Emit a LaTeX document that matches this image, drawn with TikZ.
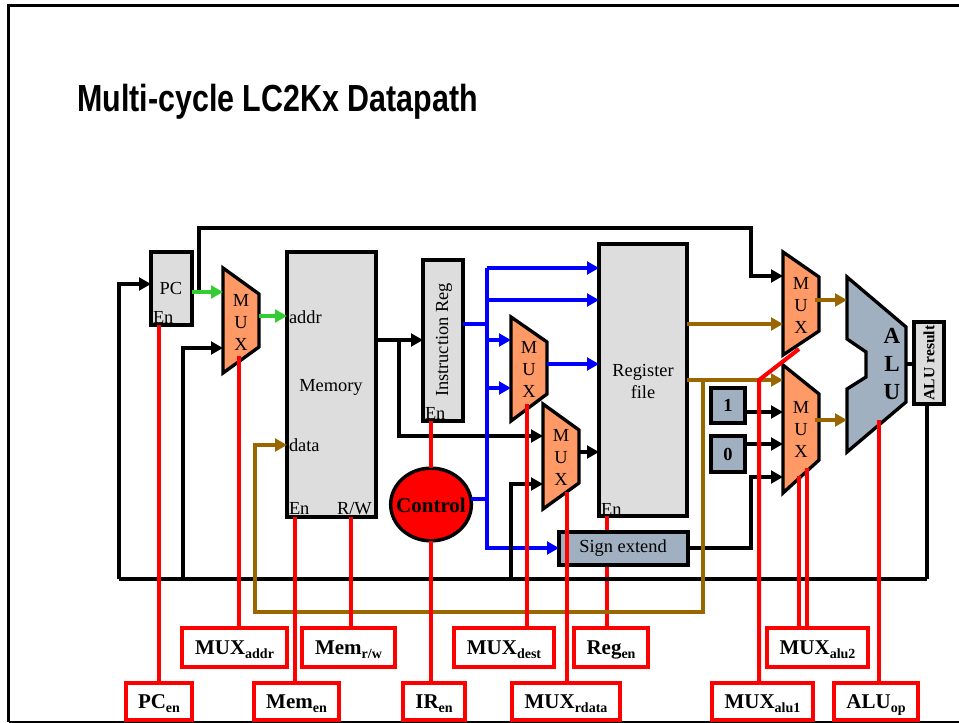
\documentclass[tikz,border=0pt]{standalone}
\usepackage{fontspec}
\usepackage{graphicx}
\setmainfont{Liberation Serif}
\newfontfamily\titlefont{Liberation Sans}
\usetikzlibrary{arrows.meta,shapes.geometric}
\definecolor{boxgray}{HTML}{DDDDDD}
\definecolor{muxorange}{HTML}{FF9966}
\definecolor{slategray}{HTML}{A0B0C0}
\definecolor{busbrown}{HTML}{996600}
\definecolor{busgreen}{HTML}{33CC33}
\definecolor{busblue}{HTML}{0000FF}
\definecolor{ctlred}{HTML}{FF0000}
\tikzset{
  x=0.75pt,y=-0.75pt,
  shapeline/.style={draw=black,line width=2.5pt,line join=miter},
  graybox/.style={shapeline,fill=boxgray,inner sep=0pt,outer sep=0pt},
  slatebox/.style={shapeline,fill=slategray,inner sep=0pt,outer sep=0pt},
  lblbox/.style={draw=ctlred,line width=2.6pt,fill=white,inner sep=0pt,outer sep=0pt,
    font=\fontsize{15.75}{18}\selectfont\bfseries,text height=10pt,text depth=.25pt},
  reg/.style={font=\fontsize{13.8}{16.5}\selectfont,inner sep=0pt,outer sep=0pt,align=center},
  bld/.style={font=\fontsize{13.8}{16.5}\selectfont\bfseries,inner sep=0pt,outer sep=0pt,align=center},
  tag/.style={reg,anchor=base west},
  wire/.style={line width=2.8pt,line join=miter},
  tip/.style={-{Triangle[length=9pt,width=9.5pt]}},
  bk/.style={wire,black},
  bkto/.style={wire,black,tip},
  bl/.style={wire,busblue},
  blto/.style={wire,busblue,tip},
  gr/.style={wire,busgreen,tip},
  brn/.style={wire,busbrown},
  brnto/.style={wire,busbrown,tip},
  rd/.style={line width=3pt,ctlred},
}
% box as a node given by its corners
\newcommand{\bx}[7]{%
  \pgfmathsetmacro{\bw}{(#5-#3)*0.75}%
  \pgfmathsetmacro{\bh}{(#6-#4)*0.75}%
  \node[#2,minimum width=\bw pt,minimum height=\bh pt] (#1) at ({(#3+#5)/2},{(#4+#6)/2}) {#7};}
% multiplexer: outline and its lettering
\newcommand{\muxbox}[9]{%
  \draw[shapeline,fill=muxorange] (#2,#4) -- (#3,#5) -- (#3,#6) -- (#2,#7) -- cycle;
  \node[reg] (#1) at (#8,#9) {M\\U\\X};}
\newcommand{\lbl}[2]{#1\raisebox{-3.2pt}{\fontsize{10.5}{12}\selectfont #2}}
\begin{document}
\begin{tikzpicture}
\useasboundingbox (0,0) rectangle (959,723);
\fill[white] (0,0) rectangle (959,723);
% slide frame
\coordinate (fbl) at (8.5,721.5);
\coordinate (ftl) at (8.5,5.5);
\coordinate (ftr) at (959,5.5);
\coordinate (fbr) at (959,721.5);
\draw[black,line width=2.2pt] (fbl) -- (ftl) -- (ftr);
\draw[black,line width=1.5pt] (fbl) -- (fbr);
\node[anchor=base west,inner sep=0pt] (title) at (77,112)
  {\scalebox{.806}[1]{\titlefont\bfseries\fontsize{28.3}{32}\selectfont Multi-cycle LC2Kx Datapath}};

% shapes
\bx{pc}{graybox}{151}{252}{192}{325}{}
\bx{mem}{graybox}{287}{252}{376}{517}{}
\bx{ir}{graybox}{423}{260}{463}{421}{}
\bx{rf}{graybox}{599}{244}{687}{516}{}
\bx{one}{slatebox,font=\fontsize{13.8}{16.5}\selectfont\bfseries}{711}{388}{745}{423}{1}
\bx{zero}{slatebox,font=\fontsize{13.8}{16.5}\selectfont\bfseries}{711}{436}{745}{472}{0}
\bx{res}{graybox}{914}{322}{944}{404}{}
\muxbox{muxa}{223}{259}{268}{294}{347}{373}{241}{322}
\muxbox{muxd}{511}{547}{317}{342}{394}{421}{529}{369}
\muxbox{muxr}{543}{579}{404}{430}{483}{509}{561}{457}
\muxbox{muxp}{783}{819}{252}{277}{331}{355}{801}{305}
\muxbox{muxq}{783}{819}{365}{394}{460}{493}{801}{429}
\draw[shapeline,fill=slategray] (847,277) -- (906,327) -- (906,402) -- (847,452) -- (847,389)
  -- (866,377) -- (866,352) -- (847,339) -- cycle;
\node[bld,font=\fontsize{17.25}{21}\selectfont\bfseries] (alu) at (892,364) {A\\L\\U};
\node[shapeline,line width=2.6pt,fill=ctlred,ellipse,minimum width=60.5pt,minimum height=54.5pt,inner sep=0pt,outer sep=0pt]
  (ctl) at (431,504.5) {};
\node[bld,font=\fontsize{15.75}{18}\selectfont\bfseries] (ctlt) at (431,505) {Control};

% shape lettering
\node[reg] (pct) at (171,288) {PC};
\node[tag] (pcen) at (153,323) {En};
\node[tag] (addr) at (289,323) {addr};
\node[tag] (data) at (289,451) {data};
\node[reg,anchor=base] (memt) at (331,391) {Memory};
\node[tag] (memen) at (289,514) {En};
\node[tag] (memrw) at (337,514) {R/W};
\node[reg,rotate=90] (irt) at (444,340) {Instruction Reg};
\node[tag] (iren) at (425,419) {En};
\node[reg] (rft) at (643,381) {Register\\file};
\node[tag] (rfen) at (601,515) {En};
\node[bld,rotate=90,font=\fontsize{11.7}{14}\selectfont\bfseries] (rest) at (929,363) {ALU result};

% label boxes
\bx{lmuxa}{lblbox}{182}{628}{287}{667}{\lbl{MUX}{addr}}
\bx{lmemrw}{lblbox}{302}{628}{395}{667}{\lbl{Mem}{r/w}}
\bx{lmuxd}{lblbox}{454}{628}{554}{667}{\lbl{MUX}{dest}}
\bx{lreg}{lblbox}{574}{628}{648}{667}{\lbl{Reg}{en}}
\bx{lmuxq}{lblbox}{767}{628}{868}{667}{\lbl{MUX}{alu2}}
\bx{lpc}{lblbox}{126}{683}{192}{720}{\lbl{PC}{en}}
\bx{lmem}{lblbox}{254}{683}{339}{720}{\lbl{Mem}{en}}
\bx{lir}{lblbox}{403}{683}{465}{720}{\lbl{IR}{en}}
\bx{lmuxr}{lblbox}{512}{683}{620}{720}{\lbl{MUX}{rdata}}
\bx{lmuxp}{lblbox}{712}{683}{813}{720}{\lbl{MUX}{alu1}}
\bx{lalu}{lblbox}{834}{683}{918}{720}{\lbl{ALU}{op}}

% Reg enable passes behind the sign extend box
\coordinate (regen) at (607,516);
\coordinate (regenb) at (607,628);
\draw[rd] (regen) -- (regenb);
\bx{sx}{slatebox}{559}{532}{688}{565}{}
\node[reg] (sxt) at (623,548) {Sign extend};

% ports
\coordinate (bus1) at (119,579);
\coordinate (bus2) at (183,579);
\coordinate (bus3) at (511,579);
\coordinate (bus4) at (927,579);
\coordinate (resb) at (927,404);
\coordinate (pcin0) at (119,284);
\coordinate (pcin) at (151,284);
\coordinate (pcout) at (192,292);
\coordinate (pctap) at (199,292);
\coordinate (top1) at (199,228);
\coordinate (top2) at (751,228);
\coordinate (top3) at (751,276);
\coordinate (mp1) at (783,276);
\coordinate (ma1) at (223,292);
\coordinate (ma20) at (183,348);
\coordinate (ma2) at (223,348);
\coordinate (maout) at (259,316);
\coordinate (memaddr) at (287,316);
\coordinate (memout) at (376,340);
\coordinate (irin) at (423,340);
\coordinate (mtap) at (399,340);
\coordinate (mtap2) at (399,436);
\coordinate (mr1) at (543,436);
\coordinate (mr20) at (511,484);
\coordinate (mr2) at (543,484);
\coordinate (mrout) at (579,452);
\coordinate (rfw) at (599,452);
\coordinate (irout) at (463,324);
\coordinate (blj) at (487,324);
\coordinate (blt) at (487,268);
\coordinate (rf1) at (599,268);
\coordinate (blm) at (487,300);
\coordinate (rf2) at (599,300);
\coordinate (md10) at (487,340);
\coordinate (md1) at (511,340);
\coordinate (md20) at (487,388);
\coordinate (md2) at (511,388);
\coordinate (mdout) at (547,364);
\coordinate (rf3) at (599,364);
\coordinate (ctlj) at (487,499);
\coordinate (ctlo) at (471,499);
\coordinate (blb) at (487,548);
\coordinate (sxin) at (559,548);
\coordinate (sxout) at (688,548);
\coordinate (sx2) at (751,548);
\coordinate (mq40) at (751,477);
\coordinate (mq4) at (783,477);
\coordinate (oneo) at (745,412);
\coordinate (mq2) at (783,412);
\coordinate (zeroo) at (745,444);
\coordinate (mq3) at (783,444);
\coordinate (rfa) at (687,324);
\coordinate (mp2) at (783,324);
\coordinate (rfb) at (687,380);
\coordinate (mq1) at (783,380);
\coordinate (brj) at (703,380);
\coordinate (br1) at (703,612);
\coordinate (br2) at (255,612);
\coordinate (br3) at (255,445);
\coordinate (memdata) at (287,445);
\coordinate (mpo) at (815,300);
\coordinate (alua) at (847,300);
\coordinate (mqo) at (815,420);
\coordinate (alub) at (847,420);
\coordinate (aluo) at (906,364);
\coordinate (resl) at (914,364);

% black buses
\draw[bk] (bus4) -- (resb);
\draw[bk] (bus1) -- (bus4);
\draw[bkto] (bus1) -- (pcin0) -- (pcin);
\draw[bkto] (bus2) -- (ma20) -- (ma2);
\draw[bkto] (pctap) -- (top1) -- (top2) -- (top3) -- (mp1);
\draw[bkto] (memout) -- (irin);
\draw[bkto] (mtap) -- (mtap2) -- (mr1);
\draw[bkto] (mrout) -- (rfw);
\draw[bkto] (sxout) -- (sx2) -- (mq40) -- (mq4);
\draw[bkto] (oneo) -- (mq2);
\draw[bkto] (zeroo) -- (mq3);
\draw[bk] (aluo) -- (resl);

% blue buses
\draw[bl] (irout) -- (blj);
\draw[bl] (ctlo) -- (ctlj);
\draw[blto] (rf1 -| blt) -- (rf1);
\draw[blto] (blt) -- (blb) -- (sxin);
\draw[blto] (blm) -- (rf2);
\draw[blto] (md10) -- (md1);
\draw[blto] (md20) -- (md2);
\draw[blto] (mdout) -- (rf3);
\draw[bkto] (bus3) -- (mr20) -- (mr2);

% green and brown buses
\draw[gr] (pcout) -- (ma1);
\draw[gr] (maout) -- (memaddr);
\draw[brnto] (rfa) -- (mp2);
\draw[brnto] (rfb) -- (mq1);
\draw[brnto] (brj) -- (br1) -- (br2) -- (br3) -- (memdata);
\draw[brnto] (mpo) -- (alua);
\draw[brnto] (mqo) -- (alub);

% control lines
\coordinate (c1) at (159,325);
\coordinate (c2) at (239,356);
\coordinate (c3) at (295,517);
\coordinate (c4) at (351,517);
\coordinate (c5) at (431,421);
\coordinate (c6) at (527,404);
\coordinate (c7) at (567,492);
\coordinate (c8) at (759,380);
\coordinate (c8b) at (799,349);
\coordinate (c9) at (799,476);
\coordinate (c10) at (807,468);
\coordinate (c11) at (879,420);
\draw[rd] (c1) -- (c1 |- lpc.north);
\draw[rd] (c2) -- (c2 |- lmuxa.north);
\draw[rd] (c3) -- (c3 |- lmem.north);
\draw[rd] (c4) -- (c4 |- lmemrw.north);
\draw[rd] (c5) -- (ctl.north);
\draw[rd] (ctl.south) -- (lir.north -| ctl.south);
\draw[rd] (c6) -- (c6 |- lmuxd.north);
\draw[rd] (c7) -- (c7 |- lmuxr.north);
\draw[rd] (c8b) -- (c8) -- (c8 |- lmuxp.north);
\draw[rd] (c9) -- (c9 |- lmuxq.north);
\draw[rd] (c10) -- (c10 |- lmuxq.north);
\draw[rd] (c11) -- (c11 |- lalu.north);
\end{tikzpicture}
\end{document}
